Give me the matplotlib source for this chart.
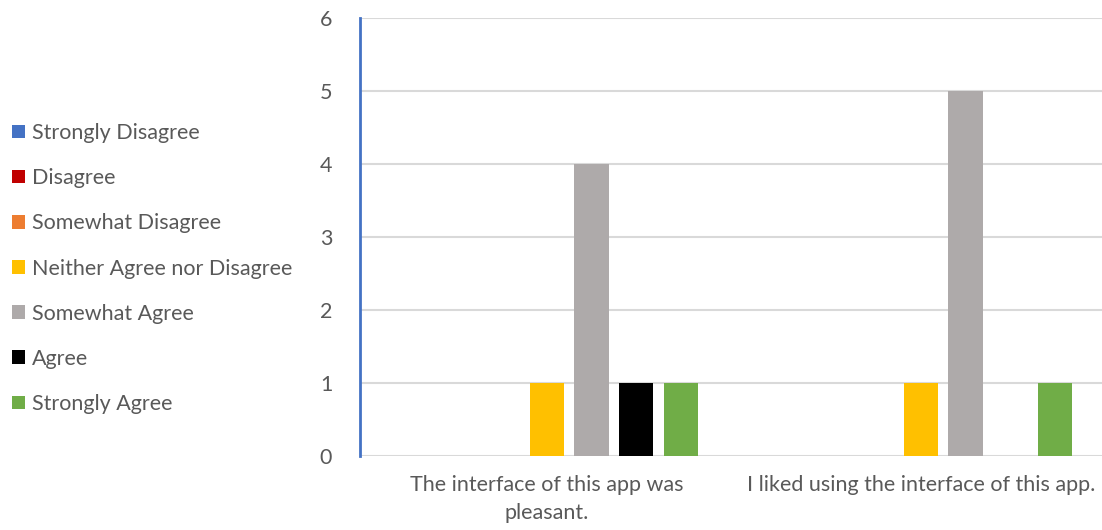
import numpy as np
import matplotlib.pyplot as plt

# survey responses per statement
questions = ['The interface of this app was\npleasant.',
             'I liked using the interface of this app.']
responses = ['Strongly Disagree', 'Disagree', 'Somewhat Disagree',
             'Neither Agree nor Disagree', 'Somewhat Agree', 'Agree',
             'Strongly Agree']
counts = {
    'Strongly Disagree':          [0, 0],
    'Disagree':                   [0, 0],
    'Somewhat Disagree':          [0, 0],
    'Neither Agree nor Disagree': [1, 1],
    'Somewhat Agree':             [4, 5],
    'Agree':                      [1, 0],
    'Strongly Agree':             [1, 1],
}
colors = ['#4472C4', '#C00000', '#ED7D31', '#FFC000', '#AEAAAA', '#000000', '#70AD47']
yticks = [0, 1, 2, 3, 4, 5, 6]

plt.rcParams['font.family'] = ['Lato', 'DejaVu Sans']
txt = '#595959'
fs = 15.5

fig = plt.figure(figsize=(11.02, 5.30), dpi=100)
ax = fig.add_axes([360/1102, 74/530, 748/1102, 438/530])

x = np.arange(len(questions))
pitch = 0.119
width = 0.091
handles = []
for i, (name, c) in enumerate(zip(responses, colors)):
    off = (i - 3) * pitch
    b = ax.bar(x + off, counts[name], width, color=c, label=name, zorder=3)
    handles.append(b)

ax.set_xlim(-0.5, 1.5)
ax.set_ylim(0, 6)
ax.set_yticks(yticks)
ax.set_xticks(x)
ax.set_xticklabels(questions, fontsize=fs, color=txt, linespacing=1.5)
ax.tick_params(axis='y', length=0, pad=20, labelsize=fs, labelcolor=txt)
ax.tick_params(axis='x', length=0, pad=14)
ax.yaxis.grid(True, color='#D9D9D9', linewidth=1.5, zorder=0)
for s in ['top', 'right', 'bottom']:
    ax.spines[s].set_visible(False)
ax.spines['left'].set_color('#4472C4')
ax.spines['left'].set_linewidth(2)
ax.spines['left'].set_zorder(4)

leg = fig.legend(handles=handles, labels=responses, loc='center left',
                 bbox_to_anchor=(12/1102, 1 - 268.5/530), frameon=False,
                 fontsize=fs, labelspacing=1.17, handlelength=0.6,
                 handleheight=0.6, handletextpad=0.33, borderpad=0,
                 borderaxespad=0)
for t in leg.get_texts():
    t.set_color(txt)

plt.savefig('out.png', dpi=100)
